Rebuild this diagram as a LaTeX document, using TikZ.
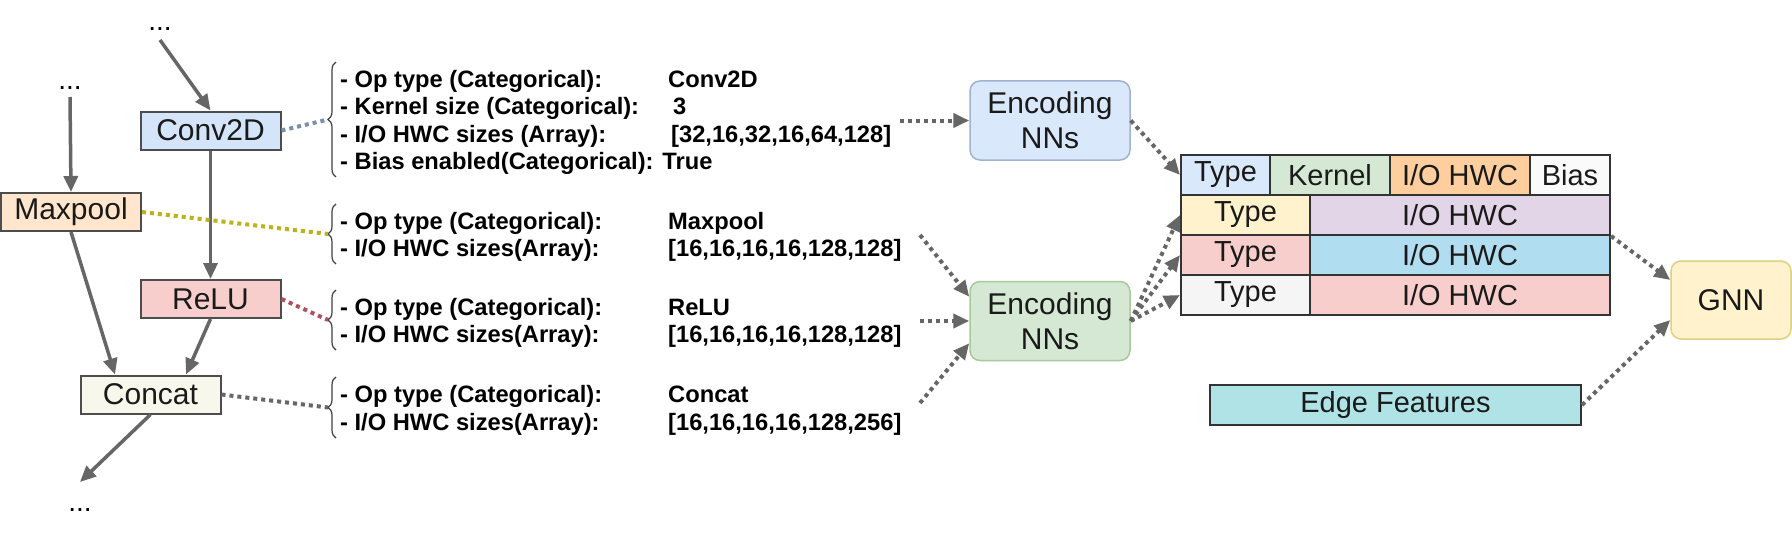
\documentclass[tikz,border=0pt]{standalone}
\usepackage{fontspec}
\setmainfont{Liberation Sans}
\usetikzlibrary{arrows.meta,decorations.pathreplacing,calc}
\definecolor{flowgray}{HTML}{666666}
\definecolor{opline}{HTML}{4D4D4D}
\definecolor{convfill}{HTML}{D4E5F9}
\definecolor{maxfill}{HTML}{FFE6CC}
\definecolor{relufill}{HTML}{F8CECC}
\definecolor{catfill}{HTML}{F7F7EC}
\definecolor{convline}{HTML}{7A8FAA}
\definecolor{maxline}{HTML}{BDB21A}
\definecolor{reluline}{HTML}{B0505E}
\definecolor{catline}{HTML}{666666}
\definecolor{enconefill}{HTML}{DAE8FC}
\definecolor{enconeline}{HTML}{9FB3D1}
\definecolor{enctwofill}{HTML}{D5E8D4}
\definecolor{enctwoline}{HTML}{A9C99A}
\definecolor{gnnfill}{HTML}{FFF2CC}
\definecolor{gnnline}{HTML}{DDD080}
\definecolor{cellA}{HTML}{DAE8FC}
\definecolor{cellB}{HTML}{D5E8D4}
\definecolor{cellC}{HTML}{FFCE9F}
\definecolor{cellD}{HTML}{FAFAFA}
\definecolor{cellE}{HTML}{FFF2CC}
\definecolor{cellF}{HTML}{E1D5E7}
\definecolor{cellG}{HTML}{F8CECC}
\definecolor{cellH}{HTML}{B1DDF0}
\definecolor{cellI}{HTML}{F5F5F5}
\definecolor{edgefill}{HTML}{B0E3E6}
\definecolor{textdark}{HTML}{1A1A1A}
\begin{document}
\begin{tikzpicture}[x=1pt,y=-1pt,
  opbox/.style={draw=opline, line width=2pt, minimum width=140pt, minimum height=38pt, inner sep=0pt, font=\fontsize{30}{32}\selectfont, text=textdark},
  encbox/.style={line width=1.5pt, rounded corners=10pt, minimum width=160pt, minimum height=79pt, inner sep=0pt, align=center, font=\fontsize{30}{35}\selectfont, text=textdark},
  cellbox/.style={draw=black!80, line width=2pt, minimum height=40pt, inner sep=0pt, font=\fontsize{29}{31}\selectfont, text=textdark},
  dotsnode/.style={anchor=base, inner sep=0pt, font=\fontsize{28}{30}\selectfont},
  listtxt/.style={anchor=base west, inner sep=0pt, font=\bfseries\fontsize{23.7}{27}\selectfont, text=black},
  flow/.style={draw=flowgray, line width=3.5pt, -{Triangle[length=16pt,width=14pt]}},
  dotarrow/.style={draw=flowgray, line width=4pt, dash pattern=on 4pt off 4pt, -{Triangle[length=16pt,width=14pt]}},
  dotlink/.style={line width=4pt, dash pattern=on 4pt off 4pt},
  bracestyle/.style={draw=black!75, line width=1.2pt, decorate, decoration={brace, amplitude=8pt}}
]
\fill[white] (0,0) rectangle (1792,543);
\useasboundingbox (0,0) rectangle (1792,543);

% operation graph
\node[opbox, fill=convfill] (conv) at (210.5,130.5) {Conv2D};
\node[opbox, fill=maxfill] (maxp) at (71,212) {Maxpool};
\node[opbox, fill=relufill] (relu) at (210.5,299) {ReLU};
\node[opbox, fill=catfill] (cat) at (150.5,394.5) {Concat};

\node[dotsnode] (dtop) at (160,31) {...};
\node[dotsnode] (dleft) at (70,89) {...};
\node[dotsnode] (dbot) at (80,511) {...};
\coordinate (a1) at (160,40);
\coordinate (a2) at (70,97);
\coordinate (a3) at (80,482);

\draw[flow] (a1) -- (conv.north);
\draw[flow] (a2) -- (maxp.north);
\draw[flow] (conv.south) -- (relu.north);
\draw[flow] (maxp.south) -- ($(cat.north west)!0.25!(cat.north east)$);
\draw[flow] (relu.south) -- ($(cat.north west)!0.75!(cat.north east)$);
\draw[flow] (cat.south) -- (a3);

% braces
\draw[bracestyle] (336,177) -- (336,62);
\draw[bracestyle] (336,264) -- (336,204);
\draw[bracestyle] (336,350) -- (336,290);
\draw[bracestyle] (336,438) -- (336,377);
\coordinate (br1) at (328,119.5);
\coordinate (br2) at (328,234);
\coordinate (br3) at (328,320);
\coordinate (br4) at (328,407.5);

\draw[dotlink, draw=convline] (conv.east) -- (br1);
\draw[dotlink, draw=maxline] (maxp.east) -- (br2);
\draw[dotlink, draw=reluline] (relu.east) -- (br3);
\draw[dotlink, draw=catline] (cat.east) -- (br4);

% attribute lists
\node[listtxt] (l1a) at (340,88) {- Op type (Categorical):};
\node[listtxt] (v1a) at (668,88) {Conv2D};
\node[listtxt] (l1b) at (340,114) {- Kernel size (Categorical):};
\node[listtxt] (v1b) at (673,114) {3};
\node[listtxt] (l1c) at (340,142) {- I/O HWC sizes (Array):};
\node[listtxt] (v1c) at (671,142) {[32,16,32,16,64,128]};
\node[listtxt] (l1d) at (340,169) {- Bias enabled(Categorical): True};

\node[listtxt] (l2a) at (340,229) {- Op type (Categorical):};
\node[listtxt] (v2a) at (668,229) {Maxpool};
\node[listtxt] (l2b) at (340,256) {- I/O HWC sizes(Array):};
\node[listtxt] (v2b) at (668,256) {[16,16,16,16,128,128]};

\node[listtxt] (l3a) at (340,315) {- Op type (Categorical):};
\node[listtxt] (v3a) at (668,315) {ReLU};
\node[listtxt] (l3b) at (340,342) {- I/O HWC sizes(Array):};
\node[listtxt] (v3b) at (668,342) {[16,16,16,16,128,128]};

\node[listtxt] (l4a) at (340,402) {- Op type (Categorical):};
\node[listtxt] (v4a) at (668,402) {Concat};
\node[listtxt] (l4b) at (340,430) {- I/O HWC sizes(Array):};
\node[listtxt] (v4b) at (668,430) {[16,16,16,16,128,256]};

% encoders
\node[encbox, fill=enconefill, draw=enconeline] (enc1) at (1050,120.5) {Encoding\\NNs};
\node[encbox, fill=enctwofill, draw=enctwoline] (enc2) at (1050,321) {Encoding\\NNs};

\coordinate (s1) at (900,120.5);
\coordinate (s2) at (920,235);
\coordinate (s3) at (920,321);
\coordinate (s4) at (920,403);
\draw[dotarrow] (s1) -- (enc1.west);
\draw[dotarrow] (s2) -- ($(enc2.north west)+(0,16)$);
\draw[dotarrow] (s3) -- (enc2.west);
\draw[dotarrow] (s4) -- ($(enc2.south west)+(0,-18)$);

% feature table
\node[cellbox, fill=cellA, minimum width=89pt] (c11) at (1225.5,175) {Type};
\node[cellbox, fill=cellB, minimum width=120pt] (c12) at (1330,175) {Kernel};
\node[cellbox, fill=cellC, minimum width=140pt] (c13) at (1460,175) {I/O HWC};
\node[cellbox, fill=cellD, minimum width=80pt] (c14) at (1570,175) {Bias};
\node[cellbox, fill=cellE, minimum width=129pt] (c21) at (1245.5,215) {Type};
\node[cellbox, fill=cellF, minimum width=300pt] (c22) at (1460,215) {I/O HWC};
\node[cellbox, fill=cellG, minimum width=129pt] (c31) at (1245.5,255) {Type};
\node[cellbox, fill=cellH, minimum width=300pt] (c32) at (1460,255) {I/O HWC};
\node[cellbox, fill=cellI, minimum width=129pt] (c41) at (1245.5,295) {Type};
\node[cellbox, fill=cellG, minimum width=300pt] (c42) at (1460,295) {I/O HWC};

\draw[dotarrow] (enc1.east) -- (c11.west);
\draw[dotarrow] (enc2.east) -- (c21.west);
\draw[dotarrow] (enc2.east) -- (c31.west);
\draw[dotarrow] (enc2.east) -- (c41.west);

% GNN and edge features
\node[encbox, fill=gnnfill, draw=gnnline, minimum width=120pt, minimum height=78pt] (gnn) at (1731,300) {GNN};
\node[cellbox, fill=edgefill, minimum width=371pt] (edge) at (1395.5,405) {Edge Features};

\draw[dotarrow] (c22.south east) -- ($(gnn.west)+(0,-20)$);
\draw[dotarrow] (edge.east) -- ($(gnn.west)+(0,20)$);
\end{tikzpicture}
\end{document}
